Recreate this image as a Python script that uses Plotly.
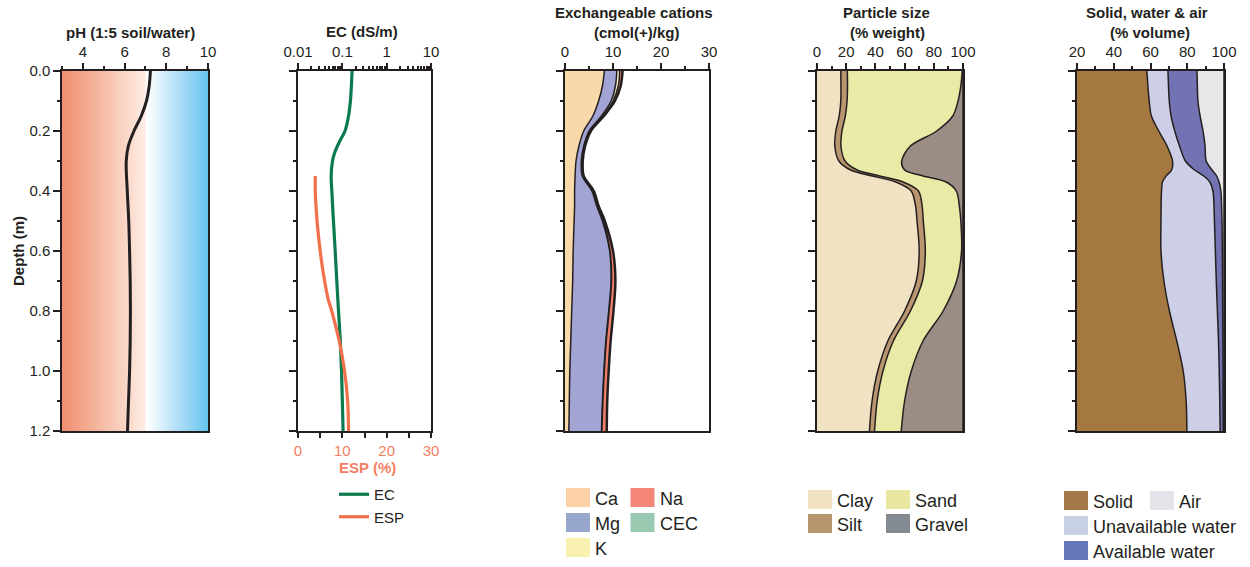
import plotly.graph_objects as go

W, H = 1250, 567
INK = "#231f20"
FONT = "Liberation Sans, Arial, Helvetica, sans-serif"
ESP_COL = "#f47f62"

# ---------------- data ----------------
ph_depth = [0.0, 0.05, 0.1, 0.15, 0.2, 0.25, 0.3, 0.4, 0.5, 0.6, 0.7, 0.8, 0.9, 1.0, 1.1, 1.2]
ph_value = [7.24, 7.18, 7.05, 6.8, 6.45, 6.18, 6.08, 6.13, 6.2, 6.24, 6.27, 6.28, 6.27, 6.24, 6.19, 6.14]
ph_grad_x = [3, 4, 5, 6, 7, 8, 9, 10]

ec_depth = [0.0, 0.05, 0.1, 0.15, 0.2, 0.23, 0.27, 0.3, 0.35, 0.4, 0.5, 0.6, 0.7, 0.8, 0.9, 1.0, 1.1, 1.2]
ec_value = [0.166, 0.16, 0.152, 0.138, 0.115, 0.09, 0.068, 0.06, 0.056, 0.058, 0.063, 0.069, 0.075, 0.082,
            0.09, 0.096, 0.1, 0.104]
ec_ticks = [0.01, 0.1, 1, 10]
ec_ticktext = ["0.01", "0.1", "1", "10"]
esp_depth = [0.35, 0.4, 0.5, 0.6, 0.7, 0.76, 0.8, 0.9, 1.0, 1.1, 1.2]
esp_value = [3.9, 3.9, 4.3, 5.0, 6.0, 6.8, 7.6, 9.3, 10.5, 11.2, 11.4]

cat_depth = [0, 0.05, 0.1, 0.15, 0.2, 0.25, 0.3, 0.35, 0.4, 0.45, 0.5, 0.6, 0.7, 0.8, 0.9, 1.0, 1.1, 1.2]
ca = [8.2, 7.8, 7.0, 5.8, 3.9, 2.9, 2.3, 2.1, 2.0, 2.0, 1.9, 1.7, 1.6, 1.4, 1.2, 1.0, 0.9, 0.8]
mg = [2.6, 2.7, 2.6, 1.8, 1.1, 1.0, 1.1, 1.5, 3.6, 4.6, 5.9, 7.6, 8.0, 7.7, 7.3, 7.1, 6.9, 6.8]
k = [0.6, 0.6, 0.4, 0.3, 0.2, 0.15, 0.15, 0.15, 0.2, 0.2, 0.2, 0.1, 0.1, 0.1, 0.1, 0.1, 0.1, 0.1]
na = [0.6, 0.5, 0.4, 0.2, 0.2, 0.15, 0.15, 0.15, 0.2, 0.2, 0.3, 0.6, 0.8, 0.9, 0.9, 0.9, 0.9, 1.0]

ps_depth = [0, 0.05, 0.1, 0.15, 0.2, 0.25, 0.3, 0.33, 0.35, 0.37, 0.4, 0.45, 0.5, 0.6, 0.7, 0.8, 0.9, 1.0, 1.1, 1.2]
clay = [16.3, 16.4, 16.3, 15.2, 12.9, 12.2, 15.0, 23.0, 38.0, 54.0, 64.5, 67.5, 68.5, 70.0, 68.0, 60.0, 48.5, 41.6, 37.7, 35.9]
silt = [4.5, 4.5, 4.3, 4.2, 4.2, 4.2, 4.2, 4.5, 5.0, 5.0, 5.0, 4.5, 4.3, 4.2, 4.2, 4.0, 3.8, 3.6, 3.5, 3.5]
sand = [78.7, 77.6, 76.0, 73.6, 64.9, 47.6, 38.8, 32.5, 29.6, 29.5, 25.9, 25.5, 25.7, 24.8, 23.4, 22.4, 20.3, 19.4, 18.8, 18.3]
gravel = [0.5, 1.5, 3.4, 7.0, 18.0, 36.0, 42.0, 40.0, 27.4, 11.5, 4.6, 2.5, 1.5, 1.0, 4.4, 13.6, 27.4, 35.4, 40.0, 42.3]

sw_depth = [0, 0.05, 0.1, 0.15, 0.2, 0.25, 0.3, 0.33, 0.35, 0.37, 0.4, 0.5, 0.6, 0.7, 0.8, 0.9, 1.0, 1.1, 1.2]
solid = [58.0, 58.6, 59.3, 60.5, 64.5, 69.0, 72.0, 71.5, 68.5, 66.5, 66.0, 65.7, 65.7, 67.3, 70.3, 74.3, 77.8, 79.4, 79.8]
unavail_water = [11.5, 11.2, 10.9, 10.7, 8.7, 6.8, 7.0, 12.5, 20.5, 25.8, 28.0, 29.1, 29.6, 28.5, 26.1, 22.7, 19.6, 18.3, 18.1]
avail_water = [15.8, 15.7, 15.6, 15.8, 15.4, 13.9, 11.3, 9.5, 7.0, 5.0, 4.3, 4.1, 3.8, 3.4, 2.9, 2.4, 2.1, 1.8, 1.7]
air = [14.7, 14.5, 14.2, 13.0, 11.4, 10.3, 9.7, 6.5, 4.0, 2.7, 1.7, 1.1, 0.9, 0.8, 0.7, 0.6, 0.5, 0.5, 0.4]

# legend labels / colours
cat_names = ["Ca", "Mg", "K", "Na", "CEC"]
cat_fill = ["#f9d9aa", "#a2a4d3", "#f6f1c2", "#f0806c"]
cat_leg_col = ["#fdd0a5", "#97a6cd", "#f8f1b0", "#f5877a", "#99c9b0"]
cat_leg_cell = [(0, 0), (0, 1), (0, 2), (1, 0), (1, 1)]

ps_names = ["Clay", "Silt", "Sand", "Gravel"]
ps_fill = ["#f2e2c4", "#b9966f", "#e9eaa5", "#9b8c84"]
ps_leg_col = ["#f2e2c4", "#b8966f", "#e9e6a0", "#848b92"]
ps_leg_cell = [(0, 0), (0, 1), (1, 0), (1, 1)]

sw_names = ["Solid", "Unavailable water", "Available water", "Air"]
sw_fill = ["#a57841", "#cdcfe6", "#7373b4", "#e8e6e9"]
sw_leg_col = ["#a3794a", "#c8d0e4", "#6478b8", "#e3e3ea"]
sw_leg_cell = [(0, 0), (0, 1), (0, 2), (1, 0)]

# ---------------- layout geometry (window pixels) ----------------
panels_px = [(62, 208), (298, 431), (565, 709), (817, 963), (1077, 1224)]
top_px, bot_px = 71, 431


def px(x):
    return x / W


def py(y):
    return 1 - y / H


ydom = [py(bot_px), py(top_px)]

fig = go.Figure()

# ---- pH panel ----
ph_scale = [
    [0.0, "rgb(240,142,112)"], [2 / 7, "rgb(246,190,168)"], [3 / 7, "rgb(250,214,198)"],
    [4 / 7, "rgb(254,238,230)"], [4.05 / 7, "rgb(255,255,255)"], [5 / 7, "rgb(205,234,249)"],
    [6 / 7, "rgb(152,214,243)"], [1.0, "rgb(100,197,238)"],
]
fig.add_trace(go.Heatmap(x=ph_grad_x, y=[0, 1.2], z=[ph_grad_x, ph_grad_x], zmin=3, zmax=10,
                         colorscale=ph_scale, zsmooth="best", showscale=False, hoverinfo="skip",
                         xaxis="x", yaxis="y"))
fig.add_trace(go.Scatter(x=ph_value, y=ph_depth, mode="lines", xaxis="x", yaxis="y",
                         line=dict(color=INK, width=3, shape="spline"), showlegend=False, hoverinfo="skip"))

# ---- EC / ESP panel ----
fig.add_trace(go.Scatter(x=ec_value, y=ec_depth, mode="lines", name="EC", xaxis="x2", yaxis="y2",
                         line=dict(color="#0b7a4e", width=3.2, shape="spline")))
fig.add_trace(go.Scatter(x=esp_value, y=esp_depth, mode="lines", name="ESP", xaxis="x6", yaxis="y2",
                         line=dict(color="#f2714c", width=3.2, shape="spline")))


def stacked(xa, ya, depth, comps, fills, group, last_w=1.5):
    n = len(comps)
    for i, (vals, col) in enumerate(zip(comps, fills)):
        fig.add_trace(go.Scatter(x=vals, y=depth, xaxis=xa, yaxis=ya, stackgroup=group, orientation="h",
                                 mode="lines", fillcolor=col,
                                 line=dict(color=INK, width=(last_w if i == n - 1 else 1.5),
                                           shape="spline", smoothing=0.9),
                                 showlegend=False, hoverinfo="skip"))


stacked("x3", "y3", cat_depth, [ca, mg, k, na], cat_fill, "cat", last_w=2.5)
stacked("x4", "y4", ps_depth, [clay, silt, sand, gravel], ps_fill, "ps")
stacked("x5", "y5", sw_depth, [solid, unavail_water, avail_water, air], sw_fill, "sw")

# ---------------- axes ----------------
tickfont = dict(family=FONT, size=15, color=INK)
common = dict(showline=True, linecolor=INK, linewidth=1.5, mirror=True, ticks="outside",
              tickwidth=1.5, tickcolor=INK, showgrid=False, zeroline=False, tickfont=tickfont,
              automargin=False)


def minor(dtick=None, ticklen=3, tickvals=None):
    m = dict(ticks="outside", ticklen=ticklen, tickwidth=1.5, tickcolor=INK, showgrid=False)
    if dtick is not None:
        m.update(dtick=dtick, tick0=0)
    if tickvals is not None:
        m.update(tickvals=tickvals)
    return m


x_specs = [
    dict(range=[3, 10], dtick=2, tick0=0, minor=minor(1)),
    dict(type="log", range=[-2, 1], tickvals=ec_ticks, ticktext=ec_ticktext,
         minor=minor(tickvals=[m * d for d in (0.01, 0.1, 1) for m in range(2, 10)])),
    dict(range=[0, 30], dtick=10, tick0=0, minor=minor(5)),
    dict(range=[0, 100], dtick=20, tick0=0, minor=minor(10)),
    dict(range=[20, 100], dtick=20, tick0=0, minor=minor(10)),
]
for i, (spec, (a, b)) in enumerate(zip(x_specs, panels_px), start=1):
    ax = dict(common)
    ax.update(spec)
    ax.update(domain=[px(a), px(b)], side="top", anchor=f"y{i}", ticklen=6)
    fig.layout[f"xaxis{i}"] = ax
    yax = dict(common)
    yax.update(domain=ydom, range=[1.2, 0], anchor=f"x{i}", dtick=0.2, tick0=0, ticklen=7,
               minor=minor(0.1), tickformat=".1f", showticklabels=(i == 1))
    fig.layout[f"yaxis{i}"] = yax

fig.layout["xaxis6"] = dict(overlaying="x2", side="bottom", anchor="y2", range=[0, 30], dtick=10, tick0=0,
                            ticks="outside", ticklen=6, tickwidth=1.5, tickcolor=INK, showline=False,
                            showgrid=False, zeroline=False, automargin=False,
                            minor=minor(5, ticklen=6),
                            tickfont=dict(family=FONT, size=15, color=ESP_COL))

# ---------------- text ----------------
title_font = dict(family=FONT, size=15, color=INK)
titles = [
    ("<b>pH (1:5 soil/water)</b>", 130, 33),
    ("<b>EC (dS/m)</b>", 362, 31),
    ("<b>Exchangeable cations</b>", 634, 13),
    ("<b>(cmol(+)/kg)</b>", 636, 33),
    ("<b>Particle size</b>", 886, 13),
    ("<b>(% weight)</b>", 887, 33),
    ("<b>Solid, water & air</b>", 1147, 13),
    ("<b>(% volume)</b>", 1150, 33),
]
ann = []
for t, x, y in titles:
    ann.append(dict(text=t, x=px(x), y=py(y), xref="paper", yref="paper", showarrow=False,
                    xanchor="center", yanchor="middle", font=title_font))
ann.append(dict(text="<b>ESP (%)</b>", x=px(367), y=py(467), xref="paper", yref="paper", showarrow=False,
                xanchor="center", yanchor="middle", font=dict(family=FONT, size=15, color=ESP_COL)))
ann.append(dict(text="<b>Depth (m)</b>", x=px(18), y=py(251), xref="paper", yref="paper", showarrow=False,
                textangle=-90, xanchor="center", yanchor="middle", font=title_font))

# ---------------- box legends ----------------
shapes = []
BOX_W, BOX_H = 24, 19


def box_legend(x0, col_dx, y0, row_dy, names, colors, cells):
    for name, col, (c, r) in zip(names, colors, cells):
        bx = x0 + c * col_dx
        by = y0 + r * row_dy
        shapes.append(dict(type="rect", xref="paper", yref="paper", x0=px(bx), x1=px(bx + BOX_W),
                           y0=py(by + BOX_H), y1=py(by), fillcolor=col, line=dict(width=0)))
        ann.append(dict(text=name, x=px(bx + BOX_W + 3), y=py(by + BOX_H / 2 + 1), xref="paper", yref="paper",
                        showarrow=False, xanchor="left", yanchor="middle",
                        font=dict(family=FONT, size=18, color=INK)))


box_legend(566, 64.5, 488, 25, cat_names, cat_leg_col, cat_leg_cell)
box_legend(808, 78, 490, 24, ps_names, ps_leg_col, ps_leg_cell)
box_legend(1064, 86, 491, 25, sw_names, sw_leg_col, sw_leg_cell)

fig.update_layout(
    width=W, height=H, autosize=False,
    margin=dict(l=0, r=0, t=0, b=0, autoexpand=False),
    paper_bgcolor="white", plot_bgcolor="white",
    annotations=ann, shapes=shapes,
    showlegend=True,
    legend=dict(x=px(334), y=py(478), xanchor="left", yanchor="top", bgcolor="rgba(0,0,0,0)",
                font=dict(family=FONT, size=15, color=INK), tracegroupgap=0, itemwidth=30,
                traceorder="normal"),
)

# remove the browser's default page margin so the figure fills the window exactly
fig.write_html("out.html", config={"displayModeBar": False},
               post_script="document.body.style.margin='0';document.body.style.overflow='hidden';")
